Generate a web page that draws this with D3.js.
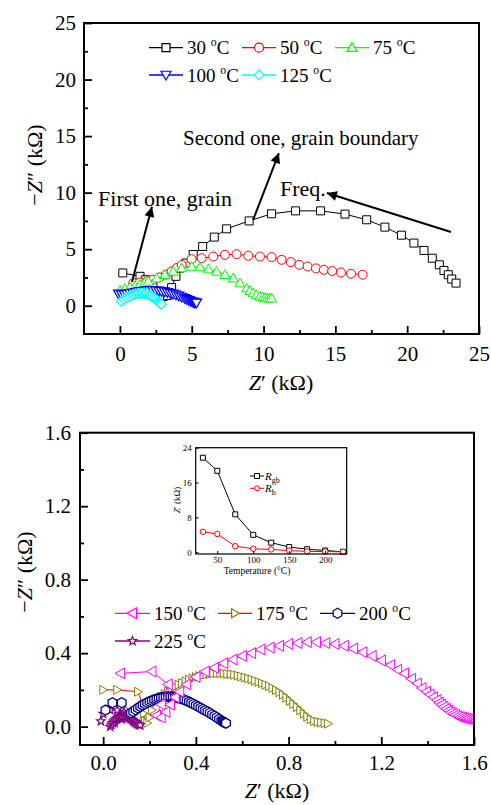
<!DOCTYPE html>
<html><head><meta charset="utf-8">
<script src="https://cdn.jsdelivr.net/npm/d3@7"></script>
<style>body{margin:0;background:#fff} svg{display:block} text{font-family:"Liberation Serif","Times New Roman",serif}</style>
</head><body><svg id="c" width="491" height="805"></svg>
<script>
// ---------------- DATA ----------------
// Top panel: Nyquist plots (Z', -Z'') in kΩ
const topTemps = ['30','50','75','100','125'];
const t30 = [[0.2,2.9],[1.4,2.6],[1.8,2.3],[2.3,1.7],[2.7,1.1],[3.0,0.8],[3.3,0.9],[3.6,1.6],[3.9,2.6],[4.18,3.33],[4.6,3.77],[5.1,4.53],[5.76,5.24],[6.57,6.07],[7.43,6.8],[9.0,7.5],[10.56,8.13],[12.23,8.39],[13.97,8.39],[15.67,8.1],[17.18,7.6],[18.45,6.95],[19.6,6.24],[20.47,5.54],[21.17,4.89],[21.75,4.2],[22.24,3.62],[22.56,3.12],[22.86,2.74],[23.1,2.36],[23.4,2.0]];
const t50 = [[0.93,2.0],[1.39,2.05],[1.85,2.15],[2.3,2.3],[2.75,2.5],[3.2,2.75],[3.6,3.05],[3.95,3.33],[4.3,3.6],[4.99,4.12],[5.69,4.2],[6.5,4.35],[7.31,4.5],[8.12,4.56],[8.94,4.42],[9.75,4.35],[10.56,4.3],[11.26,4.06],[11.89,3.86],[12.49,3.62],[13.07,3.47],[13.65,3.3],[14.2,3.18],[14.78,3.07],[15.39,2.94],[16.09,2.83],[16.9,2.74]];
const t75 = [[0.0,1.35],[0.35,1.5],[0.7,1.62],[1.05,1.75],[1.4,1.88],[1.7,2.0],[1.97,2.15],[2.55,2.44],[3.13,2.74],[3.71,3.03],[4.29,3.33],[4.99,3.47],[5.57,3.42],[6.15,3.24],[6.73,3.03],[7.31,2.74],[7.89,2.44],[8.36,2.0],[8.82,1.56],[9.05,1.32],[9.28,1.12],[9.5,0.96],[9.75,0.82],[9.95,0.74],[10.1,0.7],[10.25,0.67],[10.4,0.66],[10.56,0.66]];
const t100 = [[-0.1,1.05],[0.1,1.0],[0.3,0.98],[0.5,1.02],[0.7,1.08],[0.9,1.14],[1.1,1.19],[1.3,1.24],[1.5,1.28],[1.7,1.31],[1.9,1.33],[2.1,1.35],[2.3,1.35],[2.5,1.34],[2.7,1.32],[2.9,1.28],[3.1,1.24],[3.3,1.18],[3.5,1.12],[3.7,1.04],[3.9,0.96],[4.1,0.87],[4.3,0.77],[4.5,0.66],[4.65,0.57],[4.8,0.48],[4.92,0.41],[5.03,0.35],[5.12,0.31],[5.2,0.28],[5.27,0.26],[5.33,0.25]];
const t125 = [[0.1,0.4],[0.3,0.58],[0.5,0.72],[0.65,0.83],[0.8,0.92],[0.95,1.0],[1.1,1.05],[1.25,1.09],[1.4,1.11],[1.55,1.11],[1.7,1.09],[1.85,1.04],[2.0,0.97],[2.12,0.89],[2.24,0.8],[2.36,0.7],[2.48,0.58],[2.58,0.47],[2.67,0.37],[2.75,0.28],[2.82,0.2],[2.88,0.14]];

// Bottom panel
const botTemps = ['150','175','200','225'];
const b150 = [[0.075,0.29],[0.21,0.30],[0.28,0.23],[0.25,0.12],[0.23,0.06],[0.25,0.05],[0.27,0.08],[0.29,0.12],[0.31,0.16],[0.33,0.19],[0.36,0.23],[0.40,0.27],[0.44,0.30],[0.48,0.32],[0.52,0.345],[0.56,0.365],[0.60,0.385],[0.64,0.40],[0.68,0.42],[0.72,0.43],[0.76,0.44],[0.80,0.45],[0.84,0.455],[0.88,0.46],[0.92,0.46],[0.96,0.455],[1.00,0.45],[1.04,0.44],[1.08,0.425],[1.12,0.405],[1.16,0.385],[1.20,0.36],[1.24,0.335],[1.27,0.31],[1.30,0.29],[1.33,0.26],[1.355,0.235],[1.375,0.21],[1.395,0.19],[1.41,0.175],[1.425,0.16],[1.44,0.145],[1.45,0.13],[1.46,0.12],[1.47,0.108],[1.48,0.097],[1.49,0.087],[1.50,0.078],[1.51,0.07],[1.52,0.063],[1.53,0.057],[1.54,0.052],[1.55,0.048],[1.56,0.045],[1.57,0.042],[1.58,0.04],[1.59,0.038],[1.60,0.036],[1.61,0.035]];
const b175 = [[0.0,0.2],[0.06,0.2],[0.15,0.19],[0.17,0.12],[0.175,0.07],[0.18,0.03],[0.19,0.02],[0.2,0.05],[0.21,0.09],[0.22,0.130],[0.235,0.148],[0.25,0.163],[0.265,0.177],[0.28,0.192],[0.295,0.205],[0.31,0.217],[0.325,0.228],[0.34,0.238],[0.355,0.247],[0.37,0.255],[0.385,0.262],[0.40,0.269],[0.415,0.275],[0.43,0.280],[0.445,0.284],[0.46,0.287],[0.475,0.289],[0.49,0.290],[0.505,0.290],[0.52,0.289],[0.535,0.287],[0.55,0.285],[0.565,0.282],[0.58,0.278],[0.595,0.273],[0.61,0.268],[0.625,0.263],[0.64,0.257],[0.655,0.250],[0.67,0.243],[0.685,0.236],[0.70,0.228],[0.715,0.220],[0.73,0.210],[0.745,0.199],[0.76,0.187],[0.775,0.173],[0.79,0.157],[0.805,0.140],[0.82,0.123],[0.835,0.106],[0.85,0.088],[0.865,0.070],[0.88,0.054],[0.895,0.040],[0.91,0.031],[0.925,0.026],[0.94,0.022],[0.955,0.019],[0.97,0.016]];
const b200 = [[0.01,0.09],[0.04,0.13],[0.08,0.13],[0.12,0.075],[0.13,0.082],[0.14,0.092],[0.15,0.101],[0.16,0.109],[0.17,0.117],[0.18,0.124],[0.19,0.131],[0.20,0.137],[0.21,0.142],[0.22,0.147],[0.23,0.151],[0.24,0.155],[0.25,0.158],[0.26,0.160],[0.27,0.162],[0.28,0.163],[0.29,0.163],[0.30,0.162],[0.31,0.160],[0.32,0.157],[0.33,0.154],[0.34,0.150],[0.35,0.146],[0.36,0.141],[0.37,0.135],[0.38,0.129],[0.39,0.123],[0.40,0.116],[0.41,0.109],[0.42,0.102],[0.43,0.095],[0.44,0.088],[0.45,0.081],[0.46,0.074],[0.47,0.066],[0.48,0.058],[0.49,0.050],[0.50,0.041],[0.51,0.033],[0.515,0.028],[0.52,0.024],[0.525,0.021],[0.53,0.019]];
const b225 = [[-0.01,0.03],[0.0,0.07],[0.03,0.09],[0.06,0.09],[0.09,0.08],[0.11,0.06],[0.08,0.04],[0.05,0.02],[0.03,0.0],[0.035,0.01],[0.04,0.02],[0.045,0.028],[0.05,0.035],[0.055,0.041],[0.06,0.046],[0.065,0.05],[0.07,0.053],[0.075,0.055],[0.08,0.057],[0.085,0.058],[0.09,0.058],[0.095,0.057],[0.10,0.055],[0.105,0.052],[0.11,0.049],[0.115,0.045],[0.12,0.041],[0.125,0.036],[0.13,0.031],[0.135,0.026],[0.14,0.021],[0.145,0.017],[0.15,0.013],[0.155,0.01],[0.16,0.008]];

// Inset: resistance vs temperature
const insetTemps = [30,50,75,100,125,150,175,200,225];
const insetRgb = [21.7,18.7,8.7,4.0,2.2,1.2,0.7,0.4,0.1];
const insetRb = [4.7,4.2,1.4,0.8,0.65,0.37,0.2,0.15,0.1];

// Tick values
const topTicks = [0,5,10,15,20,25];
const topMinor = [2.5,7.5,12.5,17.5,22.5];
const botTicks = [0.0,0.4,0.8,1.2,1.6];
const botMinor = [0.2,0.6,1.0,1.4];
const insetXTicks = [50,100,150,200];
const insetYTicks = [0,8,16,24];

// ---------------- SYMBOLS ----------------
const mk = f => ({draw(c, s){ f(c, Math.sqrt(s)/2); }});
const symSquare = mk((c,h)=>{c.moveTo(-h,-h);c.lineTo(h,-h);c.lineTo(h,h);c.lineTo(-h,h);c.closePath();});
const symCircle = mk((c,h)=>{c.moveTo(h,0);c.arc(0,0,h,0,2*Math.PI);c.closePath();});
const symTriUp = mk((c,h)=>{c.moveTo(0,-h);c.lineTo(h,0.75*h);c.lineTo(-h,0.75*h);c.closePath();});
const symTriDown = mk((c,h)=>{c.moveTo(0,h);c.lineTo(h,-0.75*h);c.lineTo(-h,-0.75*h);c.closePath();});
const symTriLeft = mk((c,h)=>{c.moveTo(-h,0);c.lineTo(0.75*h,-h);c.lineTo(0.75*h,h);c.closePath();});
const symTriRight = mk((c,h)=>{c.moveTo(h,0);c.lineTo(-0.75*h,-h);c.lineTo(-0.75*h,h);c.closePath();});
const symDiamond = mk((c,h)=>{c.moveTo(0,-h);c.lineTo(h,0);c.lineTo(0,h);c.lineTo(-h,0);c.closePath();});
const symHex = mk((c,h)=>{for(let i=0;i<6;i++){const a=Math.PI/3*i+Math.PI/6;const px=h*Math.cos(a),py=h*Math.sin(a); if(i===0)c.moveTo(px,py); else c.lineTo(px,py);} c.closePath();});
const symStar = mk((c,h)=>{for(let i=0;i<10;i++){const r=i%2?h*0.42:h;const a=-Math.PI/2+i*Math.PI/5;const px=r*Math.cos(a),py=r*Math.sin(a); if(i===0)c.moveTo(px,py); else c.lineTo(px,py);} c.closePath();});

const FONT = '"Liberation Serif","Times New Roman",serif';
const svg = d3.select('#c');
svg.append('rect').attr('width',491).attr('height',805).attr('fill','#fff');
const defs = svg.append('defs');
defs.append('marker').attr('id','ah').attr('viewBox','0 0 10 10').attr('refX',10).attr('refY',5)
  .attr('markerWidth',6).attr('markerHeight',5).attr('markerUnits','strokeWidth').attr('orient','auto')
  .append('path').attr('d','M0,0L10,5L0,10Z').attr('fill','#000');

function series(g, x, y, data, o){
  g.append('path').datum(data).attr('d', d3.line().x(d=>x(d[0])).y(d=>y(d[1])))
    .attr('fill','none').attr('stroke', o.line||o.color).attr('stroke-width', 1);
  g.selectAll(null).data(data).join('path')
    .attr('transform', d=>`translate(${x(d[0])},${y(d[1])})`)
    .attr('d', d3.symbol().type(o.sym).size(o.size*o.size))
    .attr('fill','#fff').attr('stroke', o.color).attr('stroke-width', o.sw||1);
}

function axes(g, x, y, major, minor, fmt, fs, padX, padY, tl){
  const y0 = y.range()[0], x0 = x.range()[0];
  const style = s => { s.select('.domain').remove(); s.selectAll('line').attr('stroke','#000').attr('stroke-width',tl>5?1.8:1);
    s.attr('font-family',FONT).attr('font-size',fs); s.selectAll('text').attr('fill','#000'); };
  g.append('g').attr('transform',`translate(0,${y0})`).call(d3.axisBottom(x).tickValues(major.x).tickSize(-tl).tickPadding(padX).tickFormat(fmt)).call(style);
  g.append('g').attr('transform',`translate(${x0},0)`).call(d3.axisLeft(y).tickValues(major.y).tickSize(-tl).tickPadding(padY).tickFormat(fmt)).call(style);
  if(minor){
    g.append('g').attr('transform',`translate(0,${y0})`).call(d3.axisBottom(x).tickValues(minor.x).tickSize(-tl/2).tickFormat('')).call(style);
    g.append('g').attr('transform',`translate(${x0},0)`).call(d3.axisLeft(y).tickValues(minor.y).tickSize(-tl/2).tickFormat('')).call(style);
  }
}

function frame(g, x, y, sw){
  g.append('rect').attr('x',x.range()[0]).attr('y',y.range()[1])
    .attr('width',x.range()[1]-x.range()[0]).attr('height',y.range()[0]-y.range()[1])
    .attr('fill','none').attr('stroke','#000').attr('stroke-width',sw);
}

function degLabel(g, xx, yy, t, fs){
  const tx = g.append('text').attr('x',xx).attr('y',yy).attr('font-size',fs).attr('font-family',FONT);
  tx.append('tspan').text(t+' ');
  tx.append('tspan').attr('dy',-fs*0.42).attr('font-size',fs*0.62).text('o');
  tx.append('tspan').attr('dy',fs*0.42).text('C');
}

function legendItem(g, x1, x2, yy, o, t, fs){
  g.append('line').attr('x1',x1).attr('x2',x2).attr('y1',yy).attr('y2',yy).attr('stroke',o.line||o.color).attr('stroke-width',1.3);
  g.append('path').attr('transform',`translate(${(x1+x2)/2},${yy})`).attr('d',d3.symbol().type(o.sym).size(o.size*o.size))
    .attr('fill','#fff').attr('stroke',o.color).attr('stroke-width',1.2);
  degLabel(g, x2+4, yy+6.5, t, fs);
}

function zLabel(g, xx, yy, rot, fs, minus, primes){
  const t = g.append('text').attr('font-size',fs).attr('font-family',FONT).attr('text-anchor','middle')
    .attr('transform',`translate(${xx},${yy})${rot?' rotate(-90)':''}`);
  if(minus) t.append('tspan').text('\u2212');
  t.append('tspan').attr('font-style','italic').text('Z');
  t.append('tspan').text(primes+' (k\u03A9)');
}

// ---------------- TOP PANEL ----------------
const xT = d3.scaleLinear().domain([-2.5,25]).range([84,479]);
const yT = d3.scaleLinear().domain([-2.5,25]).range([334,23]);
const gT = svg.append('g');
defs.append('clipPath').attr('id','clipT').append('rect').attr('x',84).attr('y',23).attr('width',395).attr('height',311);
const gTd = gT.append('g').attr('clip-path','url(#clipT)');
const topStyles = [
  {sym:symSquare,size:8,color:'#000'},
  {sym:symCircle,size:9,color:'#ff0000'},
  {sym:symTriUp,size:10,color:'#00ff00'},
  {sym:symTriDown,size:10,color:'#0000ff',sw:1.2},
  {sym:symDiamond,size:10,color:'#00ffff',sw:1.2}
];
[t30,t50,t75,t100,t125].forEach((d,i)=>series(gTd,xT,yT,d,topStyles[i]));
axes(gT,xT,yT,{x:topTicks,y:topTicks},{x:topMinor,y:topMinor},d3.format('d'),21,12,8,8);
frame(gT,xT,yT,2);
// legend
const topLegPos = [[149,183,47.7],[242,276,47.7],[335,369,47.7],[149,183,75],[242,276,75]];
topTemps.forEach((t,i)=>legendItem(gT,topLegPos[i][0],topLegPos[i][1],topLegPos[i][2],topStyles[i],t,19));
// annotations
const arrow = (x1,y1,x2,y2)=>gT.append('line').attr('x1',xT(x1)).attr('y1',yT(y1)).attr('x2',xT(x2)).attr('y2',yT(y2))
  .attr('stroke','#000').attr('stroke-width',2).attr('marker-end','url(#ah)');
arrow(23.05,6.52,14.41,9.97);
arrow(9.27,7.58,11.07,13.5);
arrow(0.84,2.1,2.23,8.75);
const ann = (x0,y0,t,fs)=>gT.append('text').attr('x',xT(x0)).attr('y',yT(y0)).attr('font-size',fs).attr('font-family',FONT).text(t);
ann(4.39,14.21,'Second one, grain boundary',21);
ann(-1.52,8.82,'First one, grain',22);
ann(11.14,9.7,'Freq.',22);
zLabel(gT,281,390,false,22,false,'\u2032');
zLabel(gT,42,165,true,22,true,'\u2033');

// ---------------- BOTTOM PANEL ----------------
const xB = d3.scaleLinear().domain([-0.1,1.6]).range([80,474]);
const yB = d3.scaleLinear().domain([-0.1,1.6]).range([745,432.7]);
const gB = svg.append('g');
defs.append('clipPath').attr('id','clipB').append('rect').attr('x',80).attr('y',432.7).attr('width',394).attr('height',312.3);
const gBd = gB.append('g').attr('clip-path','url(#clipB)');
const botStyles = [
  {sym:symTriLeft,size:11,color:'#ff00ff'},
  {sym:symTriRight,size:9,color:'#808000',line:'#ff0000'},
  {sym:symHex,size:10,color:'#000080',sw:1.3},
  {sym:symStar,size:9,color:'#800080',sw:1.2}
];
const botData = [b150,b175,b200,b225];
[1,3,2,0].forEach(i=>series(gBd,xB,yB,botData[i],botStyles[i]));
axes(gB,xB,yB,{x:botTicks,y:botTicks},{x:botMinor,y:botMinor},d3.format('.1f'),21,10,9,8);
frame(gB,xB,yB,2);
const botLegPos = [[115,150,613.3],[218,252,613.3],[320,355,613.3],[115,150,641]];
botTemps.forEach((t,i)=>legendItem(gB,botLegPos[i][0],botLegPos[i][1],botLegPos[i][2],botStyles[i],t,19));
zLabel(gB,277,798,false,22,false,'\u2032');
zLabel(gB,32,572,true,22,true,'\u2033');

// ---------------- INSET ----------------
const xI = d3.scaleLinear().domain([20,230]).range([195.7,346.7]);
const yI = d3.scaleLinear().domain([-0.4,24]).range([554,447.7]);
const gI = svg.append('g');
gI.append('rect').attr('x',195.7).attr('y',447.7).attr('width',151).attr('height',106.3).attr('fill','#fff');
const rgbPts = insetTemps.map((t,i)=>[t,insetRgb[i]]);
const rbPts = insetTemps.map((t,i)=>[t,insetRb[i]]);
series(gI,xI,yI,rgbPts,{sym:symSquare,size:5,color:'#000'});
series(gI,xI,yI,rbPts,{sym:symCircle,size:5.5,color:'#ff0000'});
axes(gI,xI,yI,{x:insetXTicks,y:insetYTicks},null,d3.format('d'),9,3,4,3);
frame(gI,xI,yI,1.2);
// inset legend
[[476,'#000',symSquare,'gb'],[488.3,'#ff0000',symCircle,'b']].forEach(([yy,col,sym,sub])=>{
  gI.append('line').attr('x1',250).attr('x2',264).attr('y1',yy).attr('y2',yy).attr('stroke',col).attr('stroke-width',1);
  gI.append('path').attr('transform',`translate(257,${yy})`).attr('d',d3.symbol().type(sym).size(25)).attr('fill','#fff').attr('stroke',col);
  const t = gI.append('text').attr('x',265).attr('y',yy+4).attr('font-size',11).attr('font-family',FONT);
  t.append('tspan').attr('font-style','italic').text('R');
  t.append('tspan').attr('dy',2.5).attr('font-size',8).text(sub);
});
gI.append('text').attr('x',257).attr('y',574).attr('text-anchor','middle').attr('font-size',9.5).attr('font-family',FONT).text('Temperature (\u00B0C)');
const zl = gI.append('text').attr('transform','translate(180,500) rotate(-90)').attr('text-anchor','middle').attr('font-size',9).attr('font-family',FONT);
zl.append('tspan').attr('font-style','italic').text('Z');
zl.append('tspan').text('\u2032 (k\u03A9)');
</script></body></html>
